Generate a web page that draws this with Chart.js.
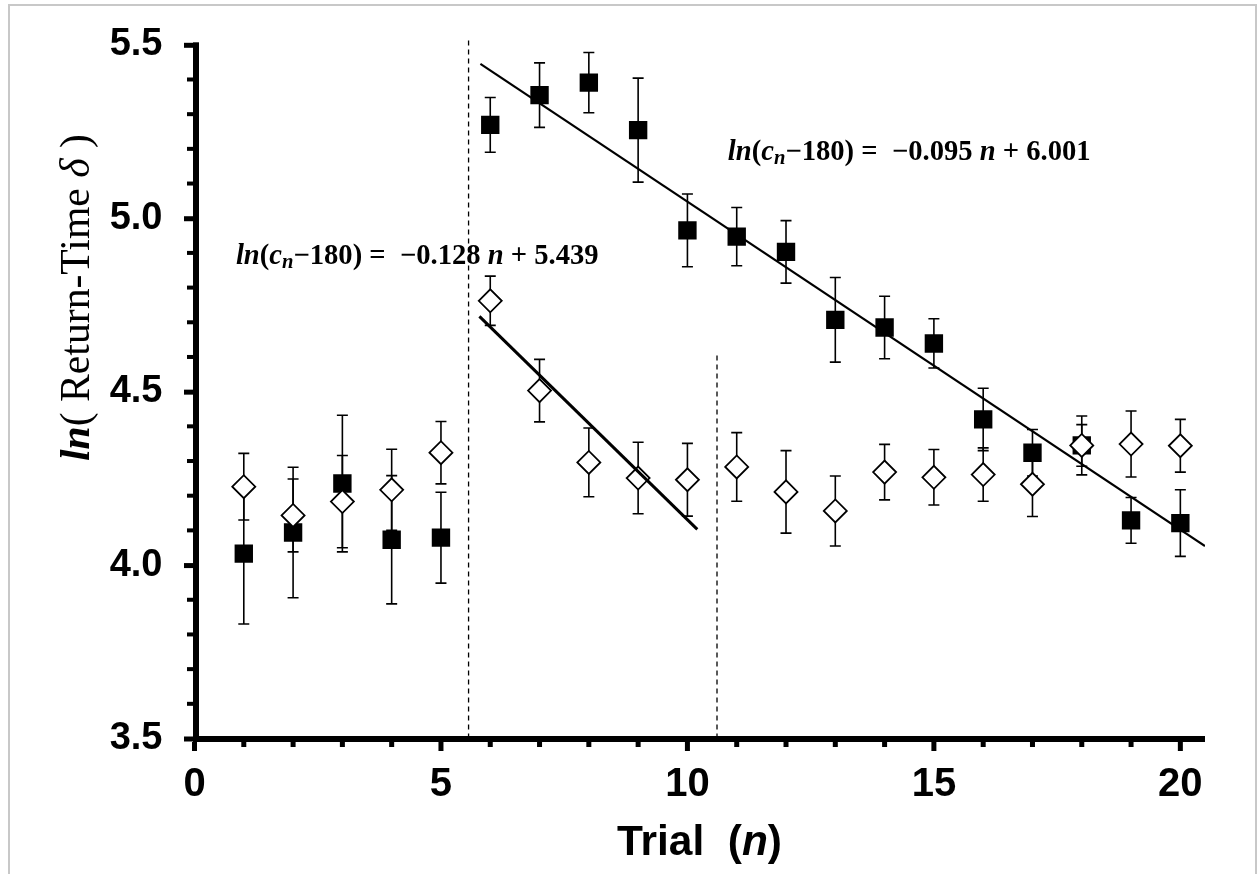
<!DOCTYPE html>
<html>
<head>
<meta charset="utf-8">
<script src="https://cdn.jsdelivr.net/npm/chart.js@4.4.1/dist/chart.umd.min.js"></script>
<style>
  html, body { margin: 0; padding: 0; background: #fff; }
  #wrap { width: 1259px; height: 874px; }
</style>
</head>
<body>
<div id="wrap"><canvas id="chart" width="1259" height="874"></canvas></div>
<script>
// Trial number n
const trials = [1, 2, 3, 4, 5, 6, 7, 8, 9, 10, 11, 12, 13, 14, 15, 16, 17, 18, 19, 20];

// filled squares: mean and +/- error
const squareMean = [4.033, 4.094, 4.235, 4.073, 4.079, 5.269, 5.355, 5.391, 5.254, 4.965,
                    4.947, 4.903, 4.707, 4.685, 4.639, 4.420, 4.324, 4.345, 4.129, 4.121];
const squareErr = [0.203, 0.188, 0.197, 0.185, 0.131, 0.079, 0.093, 0.087, 0.150, 0.105,
                   0.084, 0.090, 0.122, 0.090, 0.071, 0.090, 0.067, 0.085, 0.066, 0.096];

// open diamonds: mean and +/- error
const diamondMean = [4.226, 4.143, 4.183, 4.217, 4.324, 4.762, 4.503, 4.296, 4.251, 4.246,
                     4.283, 4.211, 4.156, 4.268, 4.253, 4.261, 4.233, 4.345, 4.349, 4.344];
const diamondErr = [0.096, 0.105, 0.133, 0.117, 0.090, 0.071, 0.090, 0.099, 0.103, 0.105,
                    0.099, 0.119, 0.101, 0.080, 0.080, 0.077, 0.093, 0.060, 0.095, 0.076];

// regression line end points
const fitSquareX = [5.8, 20.5];
const fitSquareY = [5.445, 4.055];
const fitDiamondX = [5.78, 10.2];
const fitDiamondY = [4.717, 4.103];

// dashed phase separators (x position, top value)
const splitX = [5.56, 10.6];
const splitTop = [5.515, 4.609];

const yTicks = [3.5, 4.0, 4.5, 5.0, 5.5];
const xTicks = [0, 5, 10, 15, 20];

function pts(xs, ys) {
    return xs.map((v, i) => ({ x: v, y: ys[i] }));
}

function drawRuns(ctx, runs, x, y, width) {
    // measure at base size, then scale so the run fills `width`
    let total = 0;
    runs.forEach(r => { ctx.font = r.font(1); total += ctx.measureText(r.text).width; });
    const k = width ? width / total : 1;
    let cx = x;
    runs.forEach(r => {
        ctx.font = r.font(k);
        ctx.fillText(r.text, cx, y + (r.dy || 0) * k);
        cx += ctx.measureText(r.text).width;
    });
}

function eqRuns(a, b) {
    const fam = '"Liberation Serif", "Times New Roman", serif';
    const s = 24;
    return [
        { text: 'ln', font: k => `italic bold ${s * k}px ${fam}` },
        { text: '(', font: k => `bold ${s * k}px ${fam}` },
        { text: 'c', font: k => `italic bold ${s * k}px ${fam}` },
        { text: 'n', font: k => `italic bold ${s * 0.72 * k}px ${fam}`, dy: 5 },
        { text: '−180) =  ' + a + ' ', font: k => `bold ${s * k}px ${fam}` },
        { text: 'n', font: k => `italic bold ${s * k}px ${fam}` },
        { text: ' + ' + b, font: k => `bold ${s * k}px ${fam}` },
    ];
}

const frameAndText = {
    id: 'frameAndText',
    beforeDraw(chart) {
        const { ctx } = chart;
        ctx.save();
        ctx.fillStyle = '#fff';
        ctx.fillRect(0, 0, chart.width, chart.height);
        ctx.strokeStyle = '#c8c8c8';
        ctx.lineWidth = 2;
        ctx.beginPath();
        ctx.moveTo(9, 874); ctx.lineTo(9, 5); ctx.lineTo(1256, 5); ctx.lineTo(1256, 874);
        ctx.stroke();
        ctx.restore();
    },
    beforeDatasetsDraw(chart) {
        // error bars under the markers
        const { ctx, scales: { x, y } } = chart;
        ctx.save();
        ctx.strokeStyle = '#000';
        ctx.lineWidth = 1.6;
        chart.data.datasets.forEach(ds => {
            if (!ds.errors) return;
            ds.data.forEach((p, i) => {
                const px = x.getPixelForValue(p.x);
                const hi = y.getPixelForValue(p.y + ds.errors[i]);
                const lo = y.getPixelForValue(p.y - ds.errors[i]);
                ctx.beginPath();
                ctx.moveTo(px, hi); ctx.lineTo(px, lo);
                ctx.moveTo(px - 5.5, hi); ctx.lineTo(px + 5.5, hi);
                ctx.moveTo(px - 5.5, lo); ctx.lineTo(px + 5.5, lo);
                ctx.stroke();
            });
        });
        ctx.restore();
    },
    afterDraw(chart) {
        const { ctx, scales: { x, y } } = chart;
        ctx.save();
        ctx.fillStyle = '#000';

        // axis bars
        const x0 = x.getPixelForValue(x.min);
        const x1 = x.getPixelForValue(x.max);
        const yTop = y.getPixelForValue(y.max);
        const yBot = y.getPixelForValue(y.min);
        ctx.fillRect(x0 - 1.5, yTop - 2.5, 6, yBot - yTop + 6);
        ctx.fillRect(x0 - 1.5, yBot - 2.5, x1 - x0 + 1.5, 6);

        // y ticks: minor every 0.1, major every 0.5
        for (let i = 0; i <= 20; i++) {
            const py = y.getPixelForValue(y.min + i * 0.1);
            const major = i % 5 === 0;
            const len = major ? 9 : 6;
            ctx.fillRect(x0 - 1.5 - len, py - 2, len, major ? 5 : 4);
        }
        // x ticks: minor every 1, major every 5
        for (let n = 0; n <= 20; n++) {
            const px = x.getPixelForValue(n);
            const major = n % 5 === 0;
            ctx.fillRect(px - 2.5, yBot + 3.5, 5, major ? 9 : 5);
        }

        // equations
        ctx.textBaseline = 'middle';
        drawRuns(ctx, eqRuns('−0.128', '5.439'), x.getPixelForValue(0.84), y.getPixelForValue(4.889), 363);
        drawRuns(ctx, eqRuns('−0.095', '6.001'), x.getPixelForValue(10.82), y.getPixelForValue(5.189), 363);

        // x title
        ctx.textBaseline = 'alphabetic';
        const sans = '"Liberation Sans", Arial, sans-serif';
        const xRuns = [
            { text: 'Trial  (', font: k => `bold ${40 * k}px ${sans}` },
            { text: 'n', font: k => `italic bold ${40 * k}px ${sans}` },
            { text: ')', font: k => `bold ${40 * k}px ${sans}` },
        ];
        drawRuns(ctx, xRuns, 617, 855, 165);

        // y title, rotated
        const serif = '"Liberation Serif", "Times New Roman", serif';
        const yRuns = [
            { text: 'ln', font: k => `italic bold ${40 * k}px ${serif}` },
            { text: '( Return-Time ', font: k => `${40 * k}px ${serif}` },
            { text: 'δ', font: k => `italic ${40 * k}px ${serif}` },
            { text: ' )', font: k => `${40 * k}px ${serif}` },
        ];
        ctx.translate(89, 298);
        ctx.rotate(-Math.PI / 2);
        drawRuns(ctx, yRuns, -163, 0, 327);
        ctx.restore();
    }
};

const tickFont = size => ({ family: '"Liberation Sans", Arial, sans-serif', weight: 'bold', size });

new Chart(document.getElementById('chart'), {
    type: 'scatter',
    data: {
        datasets: [
            {
                label: 'fit squares',
                data: pts(fitSquareX, fitSquareY),
                showLine: true, borderColor: '#000', borderWidth: 2.2, pointRadius: 0, order: 0,
            },
            {
                label: 'fit diamonds',
                data: pts(fitDiamondX, fitDiamondY),
                showLine: true, borderColor: '#000', borderWidth: 3, pointRadius: 0, order: 0,
            },
            {
                label: 'open',
                data: pts(trials, diamondMean),
                errors: diamondErr,
                pointStyle: 'rectRot', pointRadius: 11.5,
                pointBackgroundColor: '#fff', pointBorderColor: '#000', pointBorderWidth: 1.8,
                order: 1,
            },
            {
                label: 'filled',
                data: pts(trials, squareMean),
                errors: squareErr,
                pointStyle: 'rect', pointRadius: 13,
                pointBackgroundColor: '#000', pointBorderColor: '#000', pointBorderWidth: 0,
                order: 2,
            },
            ...splitX.map((sx, i) => ({
                label: 'split ' + (i + 1),
                data: [{ x: sx, y: 3.5 }, { x: sx, y: splitTop[i] }],
                showLine: true, borderColor: '#000', borderWidth: 1.3, borderDash: [5, 4],
                pointRadius: 0, clip: false, order: 3,
            })),
        ],
    },
    options: {
        responsive: false,
        animation: false,
        events: [],
        layout: { padding: { top: 44, right: 54, left: 0, bottom: 0 } },
        plugins: { legend: { display: false }, tooltip: { enabled: false } },
        scales: {
            x: {
                type: 'linear', min: 0, max: 20.5,
                afterFit: s => { s.height = 135.5; },
                afterBuildTicks: s => { s.ticks = xTicks.map(v => ({ value: v })); },
                grid: { display: true, drawOnChartArea: false, drawTicks: true, tickLength: 10, color: 'rgba(0,0,0,0)' },
                border: { display: false },
                ticks: { color: '#000', font: tickFont(40), padding: 12, maxRotation: 0, autoSkip: false },
            },
            y: {
                type: 'linear', min: 3.5, max: 5.5,
                afterFit: s => { s.width = 194.5; },
                afterBuildTicks: s => { s.ticks = yTicks.map(v => ({ value: v })); },
                grid: { display: true, drawOnChartArea: false, drawTicks: true, tickLength: 10, color: 'rgba(0,0,0,0)' },
                border: { display: false },
                ticks: { color: '#000', font: tickFont(38), padding: 22, callback: v => v.toFixed(1) },
            },
        },
    },
    plugins: [frameAndText],
});
</script>
</body>
</html>
